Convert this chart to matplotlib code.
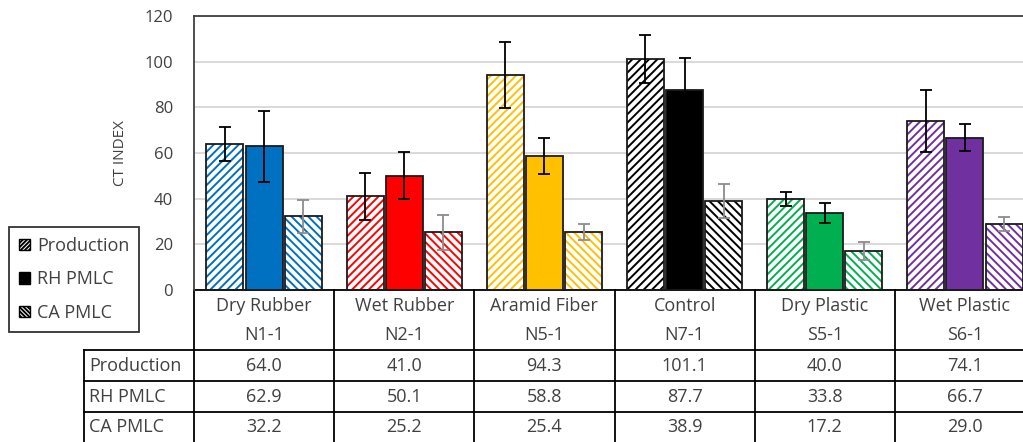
import matplotlib
matplotlib.use("Agg")
import matplotlib.pyplot as plt
import matplotlib.patches as mpatches
import matplotlib.transforms as mtransforms
import numpy as np

plt.rcParams["font.family"] = ["Open Sans", "DejaVu Sans"]
plt.rcParams["hatch.linewidth"] = 1.4

CATEGORIES = ["Dry Rubber", "Wet Rubber", "Aramid Fiber", "Control", "Dry Plastic", "Wet Plastic"]
CODES = ["N1-1", "N2-1", "N5-1", "N7-1", "S5-1", "S6-1"]
SERIES = ["Production", "RH PMLC", "CA PMLC"]

PRODUCTION = [64.0, 41.0, 94.3, 101.1, 40.0, 74.1]
RH_PMLC = [62.9, 50.1, 58.8, 87.7, 33.8, 66.7]
CA_PMLC = [32.2, 25.2, 25.4, 38.9, 17.2, 29.0]

PRODUCTION_ERR = [7.5, 10.2, 14.4, 10.5, 3.0, 13.7]
RH_PMLC_ERR = [15.5, 10.2, 7.8, 14.0, 4.3, 6.0]
CA_PMLC_ERR = [7.1, 7.6, 3.4, 7.4, 3.9, 3.0]

GROUP_COLORS = ["#0070C0", "#FF0000", "#FFC000", "#000000", "#00B050", "#7030A0"]

TEXT = "#404040"
W, H = 1023, 442

fig = plt.figure(figsize=(W / 100, H / 100), dpi=100)
# plot area runs past the right edge of the picture, like the cropped original
ax = fig.add_axes([194 / W, (H - 290) / H, 841 / W, 274 / H])

x = np.arange(len(CATEGORIES))
offsets = [-0.279, 0.0, 0.279]
width = 0.264
values = [PRODUCTION, RH_PMLC, CA_PMLC]
errors = [PRODUCTION_ERR, RH_PMLC_ERR, CA_PMLC_ERR]
hatches = ["////", None, "\\\\\\\\"]
err_colors = ["black", "black", "#8c8c8c"]

for s, (vals, errs) in enumerate(zip(values, errors)):
    xs = x + offsets[s]
    if hatches[s]:
        ax.bar(xs, vals, width, color="white", edgecolor=GROUP_COLORS,
               hatch=hatches[s], linewidth=0, zorder=2)
        ax.bar(xs, vals, width, fill=False, edgecolor="#1a1a1a", linewidth=1.3, zorder=3)
    else:
        ax.bar(xs, vals, width, color=GROUP_COLORS, edgecolor="#1a1a1a",
               linewidth=1.3, zorder=3)
    ax.errorbar(xs, vals, yerr=errs, fmt="none", ecolor=err_colors[s],
                elinewidth=1.3, capsize=4.5, capthick=1.3, zorder=4)

ax.set_xlim(-0.5, len(CATEGORIES) - 0.5)
ax.set_ylim(0, 120)
ax.set_yticks(range(0, 121, 20))
ax.set_xticks([])
ax.tick_params(axis="y", length=0, labelsize=12, labelcolor=TEXT, pad=15)
ax.grid(axis="y", color="#d9d9d9", linewidth=1.4, zorder=0)
ax.set_axisbelow(True)
for side in ["top", "left", "right"]:
    ax.spines[side].set_color("#404040")
    ax.spines[side].set_linewidth(1.3)
ax.spines["bottom"].set_visible(False)
ax.set_ylabel("CT INDEX", fontsize=11, color=TEXT, labelpad=12)

# data table under the plot
trans = mtransforms.blended_transform_factory(ax.transData, ax.transAxes)


def ypx(p):
    return (290 - p) / 274


px_per_unit = 841 / len(CATEGORIES)
x_left = -0.5 - (194 - 84) / px_per_unit
x_right = len(CATEGORIES) - 0.5
line_kw = dict(color="black", linewidth=1.3, transform=trans, clip_on=False)

ax.plot([-0.5, x_right], [ypx(290), ypx(290)], **line_kw)
for yl in [350, 381, 412]:
    ax.plot([x_left, x_right], [ypx(yl), ypx(yl)], **line_kw)
ax.plot([x_left, x_left], [ypx(350), ypx(443)], **line_kw)
for b in np.arange(len(CATEGORIES) + 1) - 0.5:
    ax.plot([b, b], [ypx(290), ypx(443)], **line_kw)

for i, (cat, code) in enumerate(zip(CATEGORIES, CODES)):
    ax.text(i, ypx(306), cat, ha="center", va="center", fontsize=13,
            color=TEXT, transform=trans)
    ax.text(i, ypx(335), code, ha="center", va="center", fontsize=13,
            color=TEXT, transform=trans)

row_y = [366, 397, 427]
for s, name in enumerate(SERIES):
    ax.text(x_left + 5 / px_per_unit, ypx(row_y[s]), name, ha="left", va="center",
            fontsize=13, color=TEXT, transform=trans)
    for i, v in enumerate(values[s]):
        ax.text(i, ypx(row_y[s]), f"{v:.1f}", ha="center", va="center",
                fontsize=13, color=TEXT, transform=trans)

handles = [
    mpatches.Patch(facecolor="white", edgecolor="black", hatch="////////", label=SERIES[0]),
    mpatches.Patch(facecolor="black", edgecolor="black", label=SERIES[1]),
    mpatches.Patch(facecolor="white", edgecolor="black", hatch="\\\\\\\\\\\\\\\\", label=SERIES[2]),
]
leg = fig.legend(handles=handles, loc="upper left", bbox_to_anchor=(9 / W, 1 - 227 / H),
                 fontsize=13, frameon=True, fancybox=False, borderaxespad=0,
                 handlelength=0.6, handleheight=0.6, handletextpad=0.4,
                 labelspacing=0.85, borderpad=0.55, labelcolor=TEXT)
leg.get_frame().set_edgecolor("black")
leg.get_frame().set_linewidth(1.3)

fig.savefig("out.png", dpi=100)
